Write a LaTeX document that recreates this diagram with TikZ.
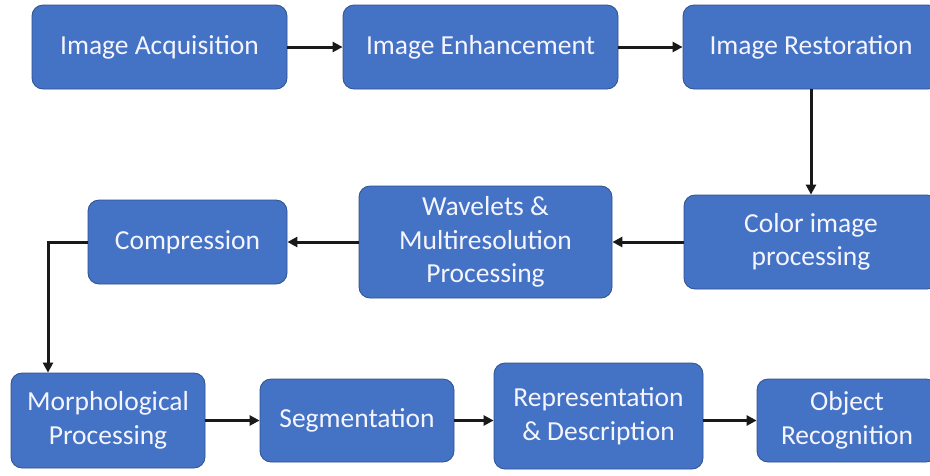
\documentclass[tikz,border=0pt]{standalone}
\usepackage{fontspec}
\setmainfont{Carlito}
\usetikzlibrary{arrows.meta}
\definecolor{boxblue}{HTML}{4472C4}
\definecolor{boxedge}{HTML}{2F528F}
\tikzset{
  stage/.style={draw=boxedge, line width=0.8pt, fill=boxblue, rounded corners=11pt,
    text=white!96!blue, align=center, inner sep=0pt,
    font=\fontsize{27.5}{33.5}\selectfont},
  flow/.style={line width=3pt, draw=black!90, -{Triangle[length=10pt,width=10pt]}}
}
\begin{document}
\begin{tikzpicture}[x=1pt, y=-1pt]
  \useasboundingbox (0,0) rectangle (930,475);
  \clip (0,0) rectangle (930,475);
  \fill[white] (0,0) rectangle (930,475);

  % first row
  \node[stage, minimum width=255pt, minimum height=84pt] (acq) at (159.5,47) {Image Acquisition};
  \node[stage, minimum width=275pt, minimum height=84pt] (enh) at (480.5,47) {Image Enhancement};
  \node[stage, minimum width=256pt, minimum height=84pt] (rest) at (811,47) {Image Restoration};

  % second row
  \node[stage, minimum width=254pt, minimum height=94pt] (col) at (811,242) {Color image\\processing};
  \node[stage, minimum width=253pt, minimum height=112pt] (wav) at (485.5,242) {Wavelets \&\\Multiresolution\\Processing};
  \node[stage, minimum width=199pt, minimum height=84pt] (comp) at (187.5,242) {Compression};

  % third row
  \node[stage, minimum width=194pt, minimum height=95pt] (morph) at (108,420.5) {Morphological\\Processing};
  \node[stage, minimum width=194pt, minimum height=83pt] (seg) at (357,420.5) {Segmentation};
  \node[stage, minimum width=209pt, minimum height=106pt] (rep) at (598.5,416) {Representation\\\& Description};
  \node[stage, minimum width=180pt, minimum height=83pt] (obj) at (847,420.5) {Object\\Recognition};

  \coordinate (bend) at (48,242);

  % connectors
  \draw[flow] (acq.east) -- (enh.west);
  \draw[flow] (enh.east) -- (rest.west);
  \draw[flow] (rest.south) -- (col.north);
  \draw[flow] (col.west) -- (wav.west -| wav.east);
  \draw[flow] (wav.west) -- (comp.east);
  \draw[flow] (comp.west) -- (bend) -- (bend |- morph.north);
  \draw[flow] (morph.east) -- (seg.west);
  \draw[flow] (seg.east) -- (seg.east -| rep.west);
  \draw[flow] (obj.west -| rep.east) -- (obj.west);
\end{tikzpicture}
\end{document}
